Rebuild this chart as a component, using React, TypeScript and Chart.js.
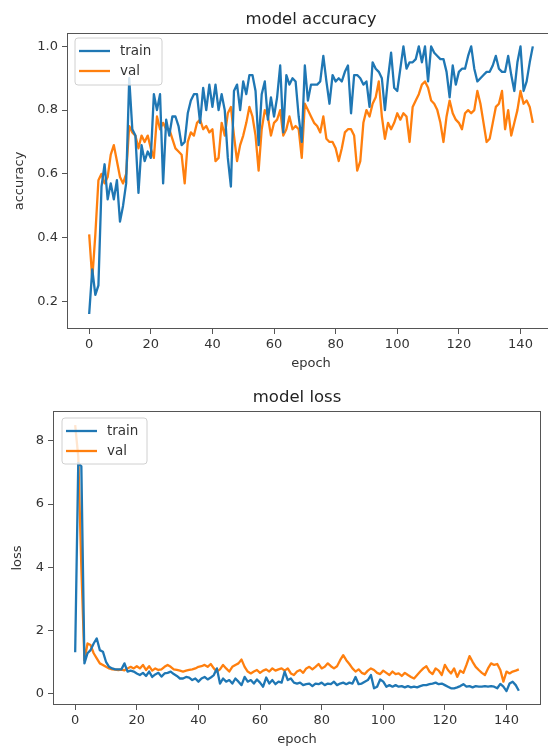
import React, { useEffect, useRef } from 'react';
import { Chart, registerables } from 'chart.js';

Chart.register(...registerables);

const trainAcc = [
  0.16, 0.30, 0.22, 0.25, 0.56, 0.63, 0.52, 0.57, 0.52, 0.58,
  0.45, 0.50, 0.57, 0.90, 0.74, 0.72, 0.54, 0.69, 0.64, 0.67,
  0.65, 0.85, 0.80, 0.85, 0.57, 0.77, 0.72, 0.78, 0.78, 0.75,
  0.69, 0.70, 0.79, 0.83, 0.85, 0.85, 0.76, 0.87, 0.80, 0.88,
  0.81, 0.88, 0.80, 0.85, 0.80, 0.65, 0.56, 0.86, 0.88, 0.80,
  0.89, 0.85, 0.91, 0.91, 0.86, 0.69, 0.85, 0.89, 0.77, 0.84,
  0.78, 0.84, 0.94, 0.73, 0.91, 0.88, 0.90, 0.89, 0.78, 0.70,
  0.94, 0.83, 0.88, 0.88, 0.88, 0.89, 0.97, 0.89, 0.82, 0.91,
  0.89, 0.90, 0.89, 0.92, 0.94, 0.79, 0.91, 0.91, 0.90, 0.88,
  0.89, 0.81, 0.95, 0.93, 0.92, 0.90, 0.80, 0.90, 0.98, 0.87,
  0.86, 0.93, 1.00, 0.93, 0.95, 0.95, 0.96, 1.00, 0.95, 1.00,
  0.89, 1.00, 0.98, 0.97, 0.96, 0.96, 0.92, 0.84, 0.94, 0.88,
  0.92, 0.93, 0.93, 0.97, 1.00, 0.93, 0.89, 0.90, 0.91, 0.92,
  0.92, 0.94, 0.97, 0.93, 0.92, 0.92, 0.97, 0.91, 0.86, 0.95,
  1.00, 0.86, 0.89, 0.95, 1.00,
];

const valAcc = [
  0.41, 0.27, 0.41, 0.58, 0.60, 0.57, 0.59, 0.66, 0.69, 0.64,
  0.59, 0.57, 0.60, 0.75, 0.73, 0.72, 0.68, 0.72, 0.70, 0.72,
  0.68, 0.65, 0.78, 0.74, 0.76, 0.74, 0.74, 0.71, 0.68, 0.67,
  0.66, 0.57, 0.70, 0.73, 0.72, 0.76, 0.77, 0.74, 0.75, 0.73,
  0.74, 0.64, 0.65, 0.76, 0.72, 0.79, 0.81, 0.72, 0.64, 0.69,
  0.72, 0.76, 0.81, 0.78, 0.72, 0.61, 0.74, 0.80, 0.78, 0.72,
  0.76, 0.77, 0.80, 0.72, 0.74, 0.78, 0.74, 0.75, 0.74, 0.65,
  0.82, 0.80, 0.78, 0.76, 0.75, 0.73, 0.78, 0.71, 0.70, 0.70,
  0.68, 0.64, 0.68, 0.73, 0.74, 0.74, 0.72, 0.61, 0.64, 0.76,
  0.80, 0.78, 0.82, 0.84, 0.89, 0.78, 0.71, 0.76, 0.74, 0.76,
  0.79, 0.77, 0.79, 0.78, 0.70, 0.81, 0.83, 0.85, 0.88, 0.89,
  0.87, 0.83, 0.82, 0.80, 0.76, 0.70, 0.78, 0.83, 0.79, 0.77,
  0.76, 0.74, 0.79, 0.80, 0.79, 0.80, 0.86, 0.82, 0.76, 0.70,
  0.71, 0.76, 0.81, 0.82, 0.86, 0.74, 0.80, 0.72, 0.76, 0.80,
  0.86, 0.82, 0.83, 0.81, 0.76,
];

const trainLoss = [
  1.30, 7.30, 7.20, 0.95, 1.27, 1.37, 1.58, 1.74, 1.37, 1.32,
  1.00, 0.84, 0.79, 0.76, 0.76, 0.76, 0.95, 0.69, 0.72, 0.69,
  0.63, 0.58, 0.65, 0.55, 0.69, 0.52, 0.60, 0.65, 0.53, 0.63,
  0.65, 0.69, 0.61, 0.55, 0.47, 0.47, 0.52, 0.50, 0.42, 0.47,
  0.37, 0.47, 0.52, 0.44, 0.50, 0.58, 0.79, 0.31, 0.47, 0.37,
  0.42, 0.31, 0.47, 0.37, 0.26, 0.52, 0.37, 0.42, 0.31, 0.44,
  0.34, 0.21, 0.50, 0.31, 0.42, 0.29, 0.37, 0.34, 0.69, 0.42,
  0.47, 0.34, 0.31, 0.34, 0.26, 0.29, 0.31, 0.23, 0.31, 0.29,
  0.34, 0.26, 0.31, 0.29, 0.37, 0.26, 0.31, 0.34, 0.29, 0.34,
  0.31, 0.52, 0.29, 0.31, 0.37, 0.42, 0.58, 0.16, 0.21, 0.44,
  0.37, 0.21, 0.26, 0.21, 0.26, 0.21, 0.23, 0.19, 0.23, 0.19,
  0.21, 0.19, 0.23, 0.26, 0.26, 0.29, 0.31, 0.34, 0.29, 0.31,
  0.26, 0.21, 0.16, 0.16, 0.19, 0.23, 0.29, 0.21, 0.23, 0.19,
  0.23, 0.21, 0.21, 0.23, 0.21, 0.23, 0.21, 0.16, 0.30, 0.21,
  0.07, 0.31, 0.37, 0.26, 0.08,
];

const valLoss = [
  8.50, 7.50, 4.00, 1.05, 1.58, 1.53, 1.27, 1.11, 0.95, 0.90,
  0.84, 0.79, 0.76, 0.75, 0.74, 0.75, 0.73, 0.79, 0.84, 0.79,
  0.86, 0.79, 0.90, 0.74, 0.86, 0.72, 0.79, 0.74, 0.76, 0.84,
  0.90, 0.84, 0.76, 0.74, 0.72, 0.69, 0.72, 0.74, 0.76, 0.79,
  0.84, 0.86, 0.90, 0.84, 0.93, 0.79, 0.69, 0.76, 0.90, 0.79,
  0.69, 0.84, 0.90, 0.95, 1.07, 0.84, 0.69, 0.63, 0.69, 0.74,
  0.65, 0.72, 0.76, 0.69, 0.79, 0.72, 0.76, 0.79, 0.72, 0.79,
  0.63, 0.58, 0.69, 0.74, 0.65, 0.79, 0.84, 0.76, 0.84, 0.93,
  0.79, 0.84, 0.95, 0.86, 0.79, 0.86, 1.05, 1.21, 1.05, 0.93,
  0.79, 0.69, 0.76, 0.65, 0.61, 0.72, 0.79, 0.74, 0.65, 0.61,
  0.72, 0.65, 0.58, 0.69, 0.61, 0.63, 0.55, 0.65, 0.58, 0.52,
  0.47, 0.58, 0.69, 0.79, 0.86, 0.69, 0.61, 0.79, 0.72, 0.58,
  0.90, 0.74, 0.63, 0.79, 0.52, 0.72, 0.65, 0.90, 1.18, 1.00,
  0.84, 0.74, 0.65, 0.58, 0.79, 0.95, 0.90, 0.93, 0.74, 0.37,
  0.69, 0.63, 0.69, 0.72, 0.76,
];

const epochTicks = [0, 20, 40, 60, 80, 100, 120, 140];
const accTicks = [0.2, 0.4, 0.6, 0.8, 1.0];
const lossTicks = [0, 2, 4, 6, 8];
const seriesLabels = ['train', 'val'];

const BLUE = '#1f77b4';
const ORANGE = '#ff7f0e';
const FONT = "'DejaVu Sans', 'Liberation Sans', sans-serif";
const AXIS_COLOR = '#555555';
const TEXT_COLOR = '#333333';

const frameLegendPlugin = {
  id: 'frameLegend',
  afterDatasetsDraw(chart: any, _args: any, opts: any) {
    const { ctx, chartArea: a } = chart;
    ctx.save();
    ctx.strokeStyle = AXIS_COLOR;
    ctx.lineWidth = 1;
    ctx.strokeRect(Math.round(a.left) + 0.5, Math.round(a.top) + 0.5,
      Math.round(a.right - a.left) - 1, Math.round(a.bottom - a.top) - 1);

    const L = a.left + (opts.dx ?? 8);
    const T = a.top + (opts.dy ?? 5);
    const W = opts.width ?? 87;
    const H = opts.height ?? 47;
    const r = 3;
    ctx.beginPath();
    ctx.moveTo(L + r, T);
    ctx.lineTo(L + W - r, T);
    ctx.quadraticCurveTo(L + W, T, L + W, T + r);
    ctx.lineTo(L + W, T + H - r);
    ctx.quadraticCurveTo(L + W, T + H, L + W - r, T + H);
    ctx.lineTo(L + r, T + H);
    ctx.quadraticCurveTo(L, T + H, L, T + H - r);
    ctx.lineTo(L, T + r);
    ctx.quadraticCurveTo(L, T, L + r, T);
    ctx.closePath();
    ctx.fillStyle = 'rgba(255,255,255,0.8)';
    ctx.fill();
    ctx.strokeStyle = '#d0d0d0';
    ctx.stroke();

    ctx.font = `13.5px ${FONT}`;
    ctx.textBaseline = 'middle';
    ctx.textAlign = 'left';
    chart.data.datasets.forEach((ds: any, i: number) => {
      const y = T + 13 + i * 20;
      ctx.strokeStyle = ds.borderColor;
      ctx.lineWidth = 2.3;
      ctx.beginPath();
      ctx.moveTo(L + 4, y);
      ctx.lineTo(L + 35, y);
      ctx.stroke();
      ctx.fillStyle = TEXT_COLOR;
      ctx.fillText(ds.label, L + 45, y + 0.5);
    });
    ctx.restore();
  },
};

type Cfg = {
  title: string;
  yLabel: string;
  train: number[];
  val: number[];
  yMin: number;
  yMax: number;
  yTicks: number[];
  yFmt: (v: number) => string;
  yWidth: number;
  yTitlePad: number;
  padRight: number;
  titlePadTop: number;
  titlePadBottom: number;
  legend: any;
};

function buildConfig(c: Cfg): any {
  const tickFont = { family: FONT, size: 13 };
  return {
    type: 'line',
    data: {
      datasets: [
        {
          label: seriesLabels[0],
          data: c.train.map((y, i) => ({ x: i, y })),
          borderColor: BLUE,
          borderWidth: 2.3,
          pointRadius: 0,
          tension: 0,
          fill: false,
          borderJoinStyle: 'round',
        },
        {
          label: seriesLabels[1],
          data: c.val.map((y, i) => ({ x: i, y })),
          borderColor: ORANGE,
          borderWidth: 2.3,
          pointRadius: 0,
          tension: 0,
          fill: false,
          borderJoinStyle: 'round',
        },
      ],
    },
    options: {
      responsive: false,
      animation: false,
      devicePixelRatio: 1,
      events: [],
      layout: { padding: { left: 0, right: c.padRight, top: 0, bottom: 0 } },
      plugins: {
        legend: { display: false },
        tooltip: { enabled: false },
        title: {
          display: true,
          fullSize: false,
          text: c.title,
          color: '#222222',
          font: { family: FONT, size: 16.5, weight: 'normal', lineHeight: 1.2 },
          padding: { top: c.titlePadTop, bottom: c.titlePadBottom },
        },
        frameLegend: c.legend,
      },
      scales: {
        x: {
          type: 'linear',
          bounds: 'data',
          min: -7.2,
          max: 151.2,
          afterBuildTicks: (ax: any) => {
            ax.ticks = epochTicks.map((v) => ({ value: v }));
          },
          afterFit: (ax: any) => {
            ax.height = 42;
          },
          ticks: {
            autoSkip: false,
            maxRotation: 0,
            padding: 3,
            color: TEXT_COLOR,
            font: tickFont,
            callback: (v: any) => String(v),
          },
          grid: {
            drawOnChartArea: false,
            drawTicks: true,
            tickLength: 5,
            tickColor: AXIS_COLOR,
            tickWidth: 1,
          },
          border: { display: false },
          title: {
            display: true,
            text: 'epoch',
            color: TEXT_COLOR,
            font: { family: FONT, size: 13, lineHeight: 1.2 },
            padding: 0,
          },
        },
        y: {
          type: 'linear',
          bounds: 'data',
          min: c.yMin,
          max: c.yMax,
          afterBuildTicks: (ax: any) => {
            ax.ticks = c.yTicks.map((v) => ({ value: v }));
          },
          afterFit: (ax: any) => {
            ax.width = c.yWidth;
          },
          ticks: {
            autoSkip: false,
            padding: 4,
            color: TEXT_COLOR,
            font: tickFont,
            callback: (v: any) => c.yFmt(Number(v)),
          },
          grid: {
            drawOnChartArea: false,
            drawTicks: true,
            tickLength: 5,
            tickColor: AXIS_COLOR,
            tickWidth: 1,
          },
          border: { display: false },
          title: {
            display: true,
            text: c.yLabel,
            color: TEXT_COLOR,
            font: { family: FONT, size: 13, lineHeight: 1.2 },
            padding: { top: c.yTitlePad, bottom: 0 },
          },
        },
      },
    },
    plugins: [frameLegendPlugin],
  };
}

function ChartCanvas({ cfg, width, height, top }: { cfg: Cfg; width: number; height: number; top: number }) {
  const ref = useRef<HTMLCanvasElement | null>(null);
  useEffect(() => {
    if (!ref.current) return;
    const chart = new Chart(ref.current, buildConfig(cfg));
    return () => chart.destroy();
  }, []);
  return (
    <canvas
      ref={ref}
      width={width}
      height={height}
      style={{ position: 'absolute', left: 0, top, width, height, display: 'block' }}
    />
  );
}

const accCfg: Cfg = {
  title: 'model accuracy',
  yLabel: 'accuracy',
  train: trainAcc,
  val: valAcc,
  yMin: 0.113,
  yMax: 1.042,
  yTicks: accTicks,
  yFmt: (v) => v.toFixed(1),
  yWidth: 67,
  yTitlePad: 12,
  padRight: 5,
  titlePadTop: 10,
  titlePadBottom: 3.2,
  legend: { dx: 8, dy: 5, width: 87, height: 47 },
};

const lossCfg: Cfg = {
  title: 'model loss',
  yLabel: 'loss',
  train: trainLoss,
  val: valLoss,
  yMin: -0.37,
  yMax: 8.95,
  yTicks: lossTicks,
  yFmt: (v) => String(v),
  yWidth: 53,
  yTitlePad: 10,
  padRight: 7,
  titlePadTop: 17,
  titlePadBottom: 3.2,
  legend: { dx: 9, dy: 7, width: 85, height: 46 },
};

export default function App() {
  return (
    <div
      style={{
        position: 'fixed',
        left: 0,
        top: 0,
        width: 548,
        height: 747,
        overflow: 'hidden',
        background: '#ffffff',
      }}
    >
      <ChartCanvas cfg={accCfg} width={560} height={371} top={0} />
      <ChartCanvas cfg={lossCfg} width={548} height={376} top={371} />
    </div>
  );
}
